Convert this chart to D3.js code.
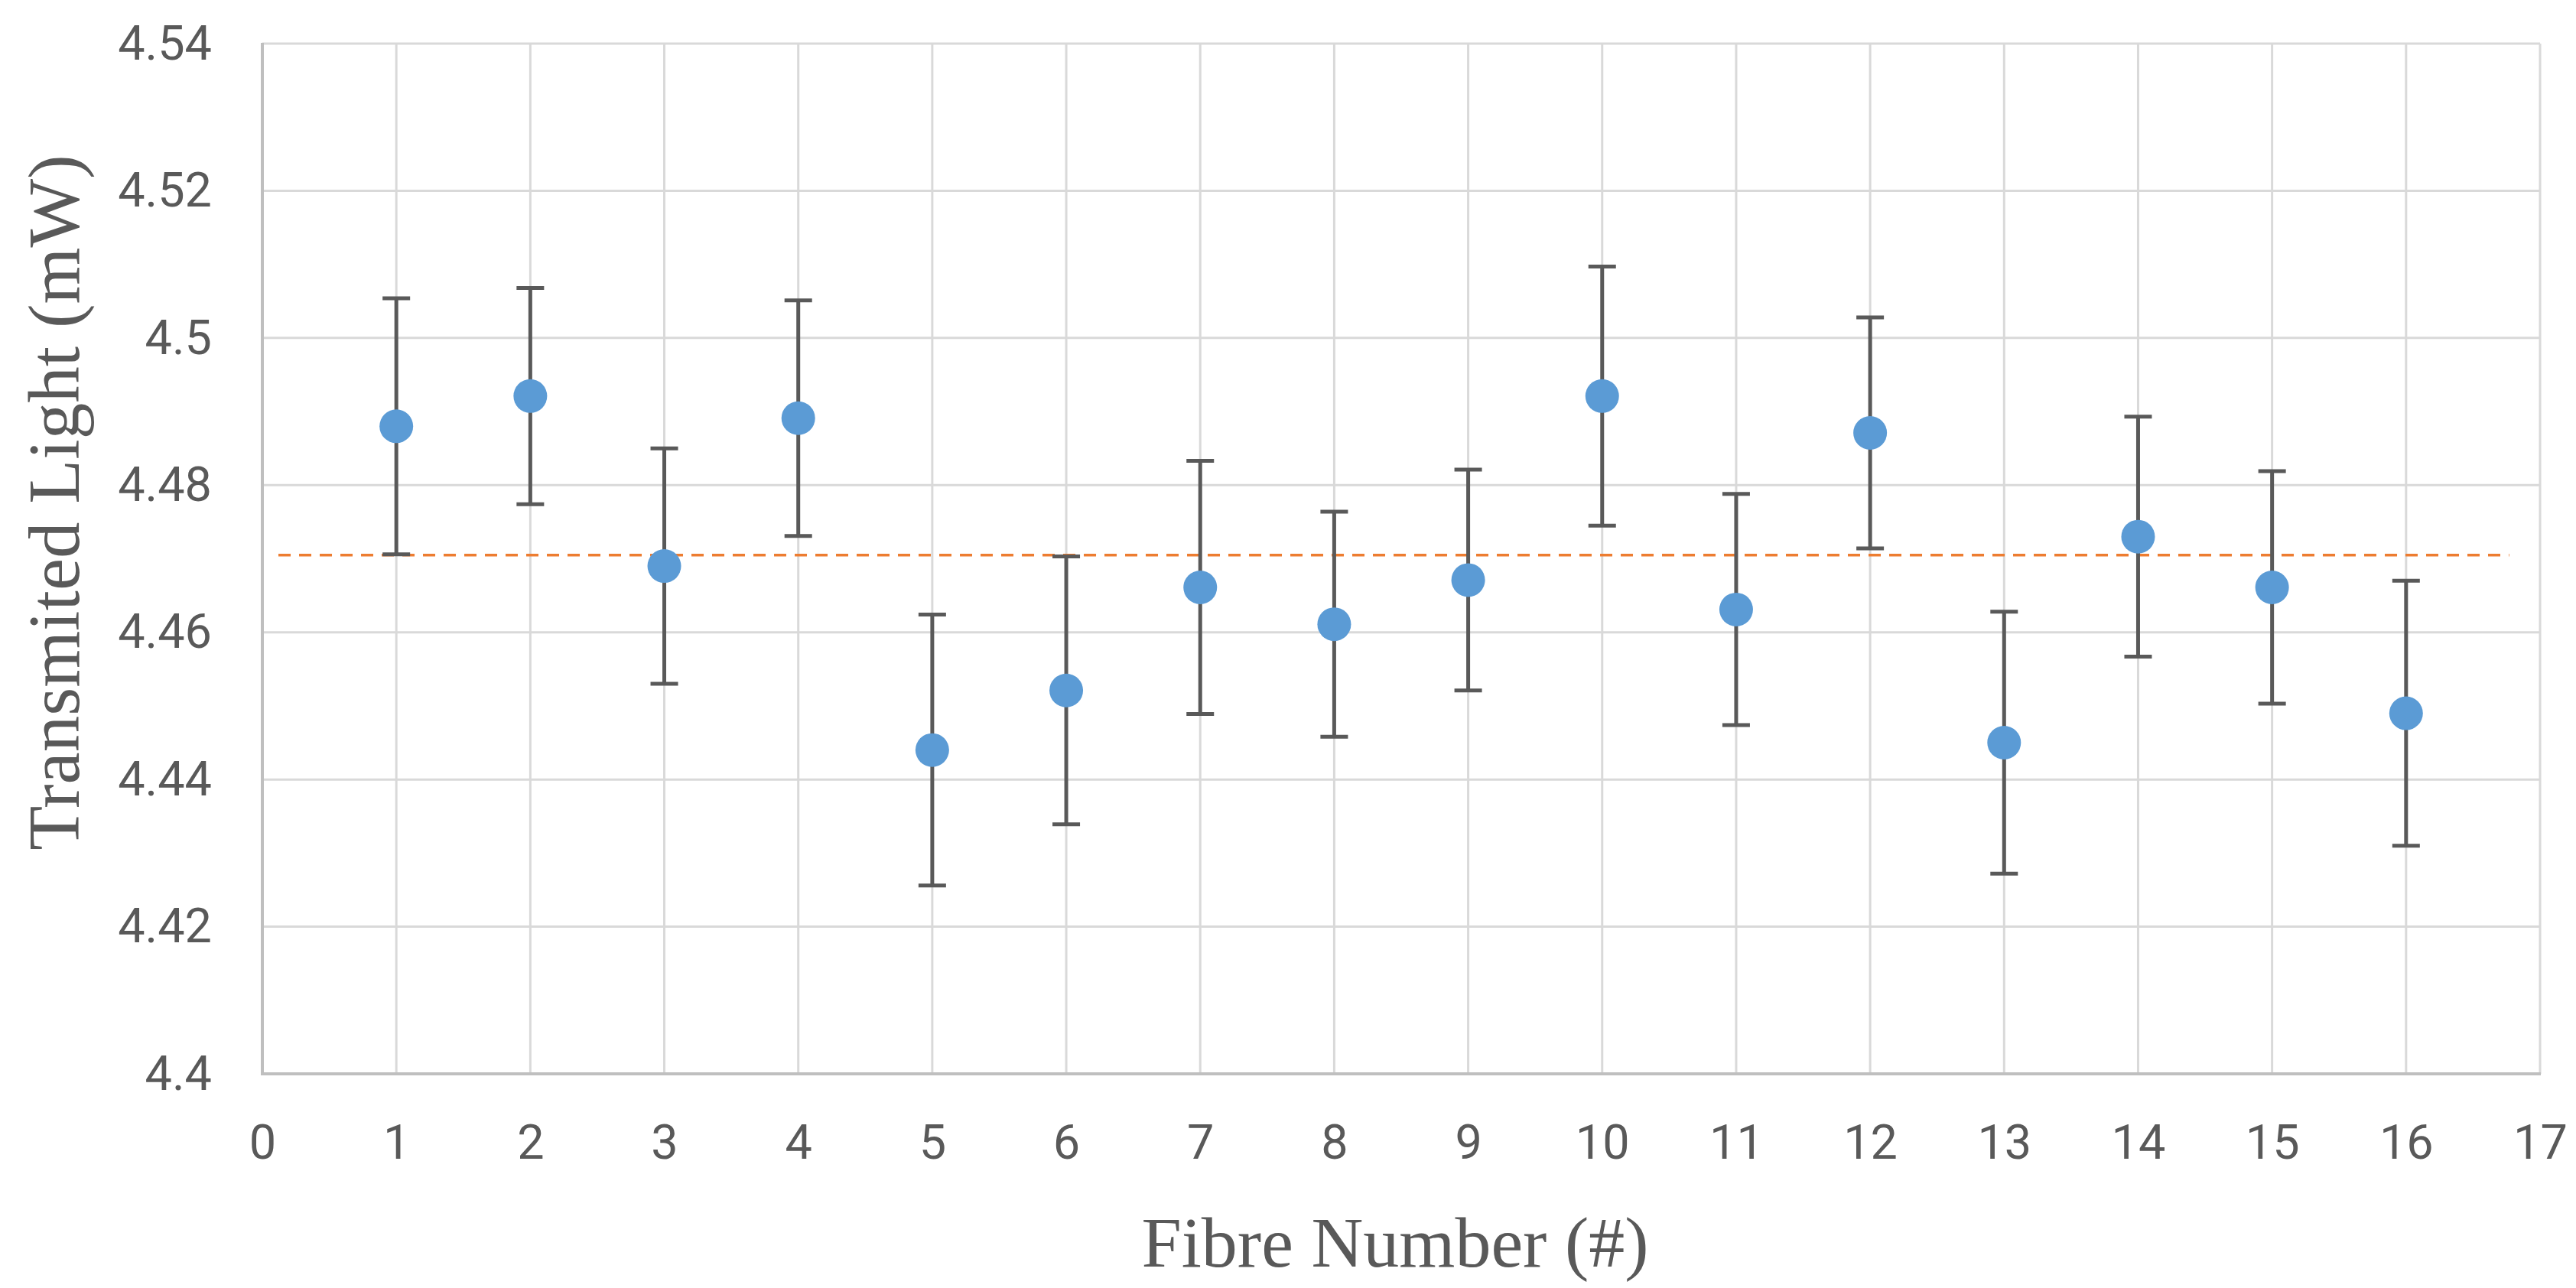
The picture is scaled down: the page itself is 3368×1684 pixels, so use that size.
<!DOCTYPE html>
<html>
<head>
<meta charset="utf-8">
<script src="https://cdn.jsdelivr.net/npm/d3@7"></script>
<style>
  html, body { margin: 0; padding: 0; background: #ffffff; }
  svg { display: block; }
</style>
</head>
<body>
<svg id="chart" width="3368" height="1684"></svg>
<script>
// ---- Data ----
const fibres = [1, 2, 3, 4, 5, 6, 7, 8, 9, 10, 11, 12, 13, 14, 15, 16];
const transmitted = [4.4880, 4.4921, 4.4690, 4.4891, 4.4440, 4.4521, 4.4661, 4.4611,
                     4.4671, 4.4921, 4.4631, 4.4871, 4.4450, 4.4730, 4.4661, 4.4490];
const errors = [0.0174, 0.0147, 0.0160, 0.0160, 0.0184, 0.0182, 0.0172, 0.0153,
                0.0150, 0.0176, 0.0157, 0.0157, 0.0178, 0.0163, 0.0158, 0.0180];
const meanValue = 4.4705;
const meanLineX = [0.12, 16.77];
const xTickValues = [0, 1, 2, 3, 4, 5, 6, 7, 8, 9, 10, 11, 12, 13, 14, 15, 16, 17];
const xTickLabels = ["0","1","2","3","4","5","6","7","8","9","10","11","12","13","14","15","16","17"];
const yTickValues = [4.40, 4.42, 4.44, 4.46, 4.48, 4.50, 4.52, 4.54];
const yTickLabels = ["4.4","4.42","4.44","4.46","4.48","4.5","4.52","4.54"];
const xTitle = "Fibre Number (#)";
const yTitle = "Transmited Light (mW)";

// ---- Layout ----
const plotLeft = 343, plotRight = 3321, plotTop = 57, plotBottom = 1404;
const svg = d3.select("#chart");
const x = d3.scaleLinear().domain([0, 17]).range([plotLeft, plotRight]);
const y = d3.scaleLinear().domain([4.40, 4.54]).range([plotBottom, plotTop]);

const tickFont = "Roboto, 'Liberation Sans', sans-serif";
const titleFont = "'Liberation Serif', 'DejaVu Serif', serif";
const textColor = "#595959";

// Gridlines
const grid = svg.append("g");
grid.selectAll("line.h").data(yTickValues.filter(v => v > 4.40)).join("line")
  .attr("class", "h")
  .attr("x1", plotLeft).attr("x2", plotRight)
  .attr("y1", d => y(d)).attr("y2", d => y(d))
  .attr("stroke", "#d9d9d9").attr("stroke-width", 3);
grid.selectAll("line.v").data(xTickValues.filter(v => v > 0)).join("line")
  .attr("class", "v")
  .attr("x1", d => x(d)).attr("x2", d => x(d))
  .attr("y1", plotTop).attr("y2", plotBottom)
  .attr("stroke", "#d9d9d9").attr("stroke-width", 3);

// Axis lines
svg.append("line").attr("x1", plotLeft).attr("x2", plotLeft).attr("y1", plotTop - 1).attr("y2", plotBottom + 2)
  .attr("stroke", "#bfbfbf").attr("stroke-width", 4);
svg.append("line").attr("x1", plotLeft).attr("x2", plotRight + 1).attr("y1", plotBottom).attr("y2", plotBottom)
  .attr("stroke", "#bfbfbf").attr("stroke-width", 4);

// Axes (labels only)
const xAxis = d3.axisBottom(x).tickValues(xTickValues)
  .tickFormat((d, i) => xTickLabels[i]).tickSize(0).tickPadding(66);
const gx = svg.append("g").attr("transform", `translate(0,${plotBottom})`).call(xAxis);
gx.select(".domain").remove();
gx.selectAll("text").attr("font-family", tickFont).attr("font-size", 63).attr("fill", textColor);

const yAxis = d3.axisLeft(y).tickValues(yTickValues)
  .tickFormat((d, i) => yTickLabels[i]).tickSize(0).tickPadding(66);
const gy = svg.append("g").attr("transform", `translate(${plotLeft},0)`).call(yAxis);
gy.select(".domain").remove();
gy.selectAll("text").attr("font-family", tickFont).attr("font-size", 63).attr("fill", textColor);

// Mean dashed line
svg.append("line")
  .attr("x1", x(meanLineX[0])).attr("x2", x(meanLineX[1]))
  .attr("y1", y(meanValue)).attr("y2", y(meanValue))
  .attr("stroke", "#ed7d31").attr("stroke-width", 3.5)
  .attr("stroke-dasharray", "16,11");

// Data table
const data = fibres.map((f, i) => ({ f, v: transmitted[i], e: errors[i] }));

// Error bars
const eb = svg.append("g").attr("stroke", "#595959").attr("stroke-width", 5);
eb.selectAll("line.stem").data(data).join("line")
  .attr("class", "stem")
  .attr("x1", d => x(d.f)).attr("x2", d => x(d.f))
  .attr("y1", d => y(d.v + d.e)).attr("y2", d => y(d.v - d.e));
eb.selectAll("line.capTop").data(data).join("line")
  .attr("class", "capTop")
  .attr("x1", d => x(d.f) - 18).attr("x2", d => x(d.f) + 18)
  .attr("y1", d => y(d.v + d.e)).attr("y2", d => y(d.v + d.e));
eb.selectAll("line.capBot").data(data).join("line")
  .attr("class", "capBot")
  .attr("x1", d => x(d.f) - 18).attr("x2", d => x(d.f) + 18)
  .attr("y1", d => y(d.v - d.e)).attr("y2", d => y(d.v - d.e));

// Markers
svg.append("g").selectAll("circle").data(data).join("circle")
  .attr("cx", d => x(d.f)).attr("cy", d => y(d.v)).attr("r", 22)
  .attr("fill", "#5b9bd5");

// Titles
svg.append("text")
  .attr("x", (plotLeft + plotRight) / 2 - 8).attr("y", 1656)
  .attr("text-anchor", "middle")
  .attr("font-family", titleFont).attr("font-size", 94).attr("fill", textColor)
  .text(xTitle);
svg.append("text")
  .attr("transform", `translate(103,657) rotate(-90)`)
  .attr("text-anchor", "middle")
  .attr("font-family", titleFont).attr("font-size", 95).attr("fill", textColor)
  .text(yTitle);
</script>
</body>
</html>
